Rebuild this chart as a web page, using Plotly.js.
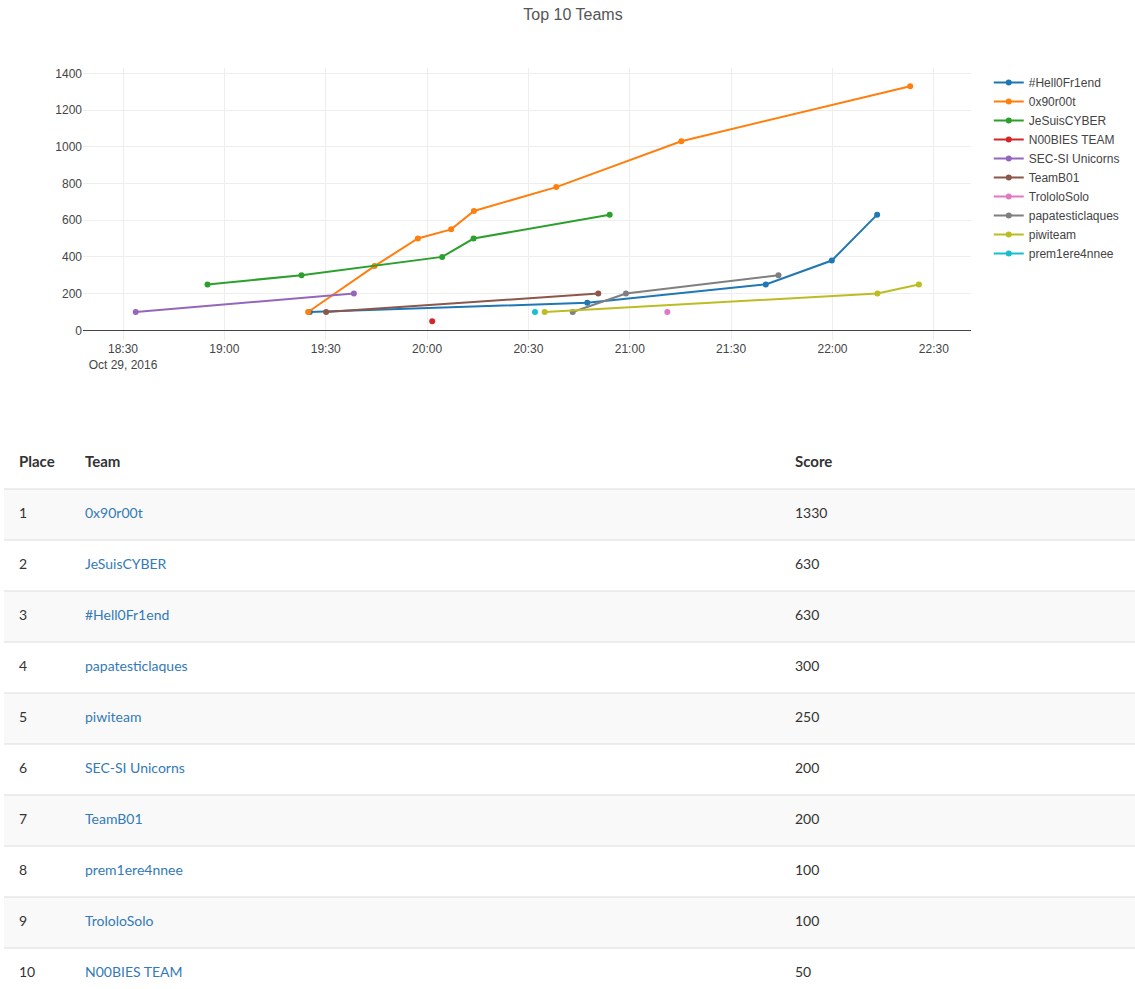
<!DOCTYPE html>
<html>
<head>
<meta charset="utf-8">
<script src="https://cdn.plot.ly/plotly-3.0.1.min.js"></script>
<style>
  html, body { margin: 0; padding: 0; background: #fff; }
  #chart { width: 1135px; height: 989px; }
</style>
</head>
<body>
<div id="chart"></div>
<script>
// ---------- line chart data ----------
const day = '2016-10-29 ';
const teams = ['#Hell0Fr1end', '0x90r00t', 'JeSuisCYBER', 'N00BIES TEAM', 'SEC-SI Unicorns',
               'TeamB01', 'TrololoSolo', 'papatesticlaques', 'piwiteam', 'prem1ere4nnee'];

const hell0Times   = ['19:25:18', '20:47:25', '21:40:15', '21:59:48', '22:13:13'];
const hell0Scores  = [100, 150, 250, 380, 630];
const x90Times     = ['19:24:47', '19:44:27', '19:57:16', '20:07:07', '20:13:52', '20:38:14', '21:15:15', '22:23:00'];
const x90Scores    = [100, 350, 500, 550, 650, 780, 1030, 1330];
const jeSuisTimes  = ['18:55:00', '19:22:50', '20:04:28', '20:13:46', '20:54:03'];
const jeSuisScores = [250, 300, 400, 500, 630];
const noobTimes    = ['20:01:31'];
const noobScores   = [50];
const secsiTimes   = ['18:33:45', '19:38:20'];
const secsiScores  = [100, 200];
const teamB01Times = ['19:30:07', '20:50:40'];
const teamB01Scores= [100, 200];
const trololoTimes = ['21:11:07'];
const trololoScores= [100];
const papaTimes    = ['20:43:06', '20:58:52', '21:44:00'];
const papaScores   = [100, 200, 300];
const piwiTimes    = ['20:34:48', '22:13:18', '22:25:34'];
const piwiScores   = [100, 200, 250];
const premTimes    = ['20:31:56'];
const premScores   = [100];

const seriesTimes  = [hell0Times, x90Times, jeSuisTimes, noobTimes, secsiTimes,
                      teamB01Times, trololoTimes, papaTimes, piwiTimes, premTimes];
const seriesScores = [hell0Scores, x90Scores, jeSuisScores, noobScores, secsiScores,
                      teamB01Scores, trololoScores, papaScores, piwiScores, premScores];

// ---------- table data ----------
const tableHeaders = ['Place', 'Team', 'Score'];
const places       = ['1', '2', '3', '4', '5', '6', '7', '8', '9', '10'];
const tableTeams   = ['0x90r00t', 'JeSuisCYBER', '#Hell0Fr1end', 'papatesticlaques', 'piwiteam',
                      'SEC-SI Unicorns', 'TeamB01', 'prem1ere4nnee', 'TrololoSolo', 'N00BIES TEAM'];
const tableScores  = ['1330', '630', '630', '300', '250', '200', '200', '100', '100', '50'];

// ---------- layout geometry ----------
const W = 1135, H = 989;
const colors = ['#1f77b4', '#ff7f0e', '#2ca02c', '#d62728', '#9467bd',
                '#8c564b', '#e377c2', '#7f7f7f', '#bcbd22', '#17becf'];
const chartFont = '"Liberation Sans", Arial, sans-serif';
const tableFont = 'Lato, "Noto Sans", sans-serif';

const traces = teams.map((name, i) => ({
  type: 'scatter',
  mode: 'lines+markers',
  name: name,
  x: seriesTimes[i].map(t => day + t),
  y: seriesScores[i],
  line: { color: colors[i], width: 2 },
  marker: { color: colors[i], size: 6 },
  xaxis: 'x', yaxis: 'y'
}));

// table geometry (x2 axis in pixel-like units, y2 axis in row units)
const colX = [15, 81, 791];
const rowIdx = places.map((p, i) => i + 1);
const textTrace = (xs, ys, txt, color, bold) => ({
  type: 'scatter', mode: 'text', x: xs, y: ys, text: txt,
  textposition: 'middle right', showlegend: false, hoverinfo: 'skip',
  textfont: { family: tableFont, size: bold ? 15 : 14, color: color, weight: bold ? 'bold' : 'normal' },
  xaxis: 'x2', yaxis: 'y2', cliponaxis: false
});
traces.push(textTrace(colX, [0, 0, 0], tableHeaders, '#333', true));
traces.push(textTrace(rowIdx.map(() => colX[0]), rowIdx, places, '#333', false));
traces.push(textTrace(rowIdx.map(() => colX[1]), rowIdx, tableTeams, '#337ab7', false));
traces.push(textTrace(rowIdx.map(() => colX[2]), rowIdx, tableScores, '#333', false));

const shapes = [];
rowIdx.forEach(k => {
  if (k % 2 === 1) {
    shapes.push({ type: 'rect', xref: 'x2', yref: 'y2', x0: 0, x1: 1131, y0: k - 0.5, y1: k + 0.5,
                  fillcolor: '#f9f9f9', line: { width: 0 }, layer: 'below' });
  }
  shapes.push({ type: 'line', xref: 'x2', yref: 'y2', x0: 0, x1: 1131, y0: k - 0.5, y1: k - 0.5,
                line: { color: '#dddddd', width: 1 }, layer: 'below' });
});

const plotL = 83, plotR = 971, plotT = 68, plotB = 340;
const tblT = 438, rowH = 51;

const layout = {
  width: W, height: H,
  margin: { l: 0, r: 0, t: 0, b: 0, autoexpand: false },
  paper_bgcolor: '#fff', plot_bgcolor: 'rgba(0,0,0,0)',
  font: { family: chartFont, size: 12, color: '#444' },
  title: { text: 'Top 10 Teams', x: 573 / W, xanchor: 'center', y: 1 - 14 / H, yanchor: 'middle',
           font: { family: chartFont, size: 16, color: '#555' } },
  showlegend: true,
  legend: { x: (plotR + 0.02 * (plotR - plotL)) / W, y: 1 - plotT / H, xanchor: 'left', yanchor: 'top',
            font: { size: 12, color: '#444' } },
  xaxis: {
    domain: [plotL / W, plotR / W], anchor: 'y', type: 'date',
    range: [day + '18:18:09', day + '22:41:00'],
    tick0: day + '18:30:00', dtick: 30 * 60 * 1000,
    showgrid: true, gridcolor: '#eee', zeroline: false, showline: false,
    ticks: '', tickfont: { size: 12, color: '#444' }
  },
  yaxis: {
    domain: [1 - plotB / H, 1 - plotT / H], anchor: 'x',
    range: [-52.8, 1428.9], dtick: 200, tick0: 0,
    showgrid: true, gridcolor: '#eee', zeroline: true, zerolinecolor: '#444', zerolinewidth: 1,
    showline: false, ticks: '', tickfont: { size: 12, color: '#444' }
  },
  xaxis2: { domain: [4 / W, 1], anchor: 'y2', range: [0, 1131], visible: false, fixedrange: true },
  yaxis2: { domain: [0, 1 - tblT / H], anchor: 'x2',
            range: [(H - tblT) / rowH - 0.5, -0.5], visible: false, fixedrange: true },
  shapes: shapes
};

Plotly.newPlot('chart', traces, layout, { displayModeBar: false, staticPlot: true });
</script>
</body>
</html>
